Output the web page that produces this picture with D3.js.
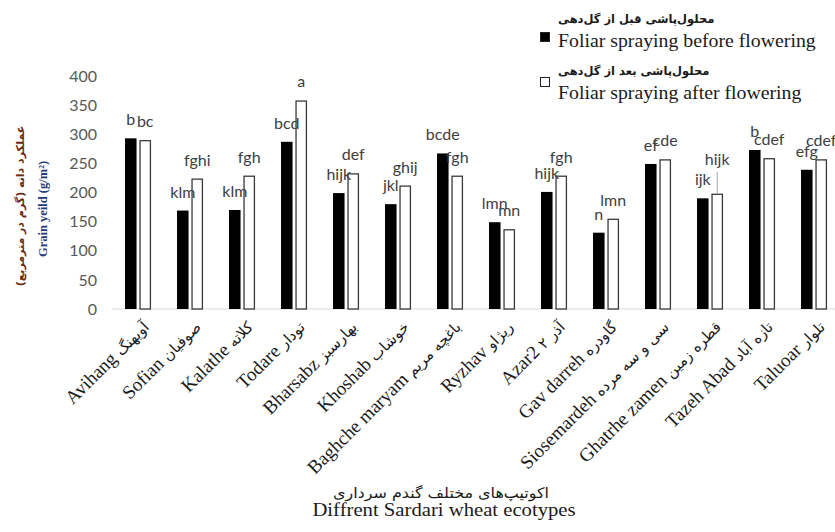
<!DOCTYPE html>
<html>
<head>
<meta charset="utf-8">
<script src="https://cdn.jsdelivr.net/npm/d3@7"></script>
<style>
  html, body { margin: 0; padding: 0; background: #fff; }
  svg { display: block; }
</style>
</head>
<body>
<svg id="chart" width="835" height="532"></svg>
<script>
// ---- data ----
const categoriesEn = ["Avihang", "Sofian", "Kalathe", "Todare", "Bharsabz", "Khoshab", "Baghche maryam", "Ryzhav", "Azar2", "Gav darreh", "Siosemardeh", "Ghatrhe zamen", "Tazeh Abad", "Taluoar"];
const categoriesFa = ["آویهنگ", "صوفیان", "کلاته", "تودار", "بهارسبز", "خوشاب", "باغچه مریم", "ریژاو", "آذر ۲", "گاودره", "سی و سه مرده", "قطره زمین", "تازه آباد", "تلوار"];
const beforeValues = [293, 169, 170, 287, 199, 180, 267, 149, 201, 131, 249, 190, 273, 239];
const afterValues  = [290, 224, 229, 358, 233, 212, 229, 137, 229, 155, 257, 198, 259, 257];
const beforeLetters = ["b", "klm", "klm", "bcd", "hijk", "jkl", "bcde", "lmn", "hijk", "n", "ef", "ijk", "b", "efg"];
const afterLetters  = ["bc", "fghi", "fgh", "a", "def", "ghij", "fgh", "mn", "fgh", "lmn", "cde", "hijk", "cdef", "cdef"];
const yTicks = [0, 50, 100, 150, 200, 250, 300, 350, 400];
const seriesKeys = ["before", "after"];
const seriesNamesEn = ["Foliar spraying before flowering", "Foliar spraying after flowering"];
const seriesNamesFa = ["محلول‌پاشی قبل از گل‌دهی", "محلول‌پاشی بعد از گل‌دهی"];
const yTitleFa = "عملکرد دانه (گرم در مترمربع)";
const yTitleEn = "Grain yeild (g/m²)";
const xTitleFa = "اکوتیپ‌های مختلف گندم سرداری";
const xTitleEn = "Diffrent Sardari wheat ecotypes";

// ---- build table ----
const rows = categoriesEn.map((c, i) => ({
  cat: c, fa: categoriesFa[i],
  before: beforeValues[i], after: afterValues[i],
  lbefore: beforeLetters[i], lafter: afterLetters[i]
}));

const svg = d3.select("#chart");
const serif = "'Liberation Serif', 'Times New Roman', serif";
const sans = "Lato, 'Open Sans', sans-serif";
const fa = "'DejaVu Sans', sans-serif";
const ink = "#1a1a1a";

const x0 = d3.scaleBand().domain(categoriesEn).range([112, 840]).paddingInner(0.5).paddingOuter(0.25);
const x1 = d3.scaleBand().domain(seriesKeys).range([0, x0.bandwidth()]).paddingInner(0.2);
const y = d3.scaleLinear().domain([0, 400]).range([309, 76]);

// y tick labels
const yAxis = d3.axisLeft(y).tickValues(yTicks).tickSize(0).tickPadding(0);
const yg = svg.append("g").attr("transform", "translate(97,0)").call(yAxis);
yg.select(".domain").remove();
yg.selectAll("text").attr("font-family", sans).attr("font-size", 16).attr("fill", "#595959");

// baseline
svg.append("line").attr("x1", 112).attr("x2", 835).attr("y1", y(0)).attr("y2", y(0))
  .attr("stroke", "#d9d9d9").attr("stroke-width", 1);

// bars
const groups = svg.append("g").selectAll("g").data(rows).join("g")
  .attr("transform", d => `translate(${x0(d.cat)},0)`);

groups.append("rect")
  .attr("x", x1("before")).attr("width", x1.bandwidth())
  .attr("y", d => y(d.before)).attr("height", d => y(0) - y(d.before))
  .attr("fill", "#000");

groups.append("rect")
  .attr("x", x1("after") + 0.6).attr("width", x1.bandwidth() - 1.2)
  .attr("y", d => y(d.after) + 0.6).attr("height", d => y(0) - y(d.after) - 0.6)
  .attr("fill", "#fff").attr("stroke", "#3a3a3a").attr("stroke-width", 1.3);

// letters
const liftIdx = categoriesEn.indexOf("Ghatrhe zamen");
groups.append("text")
  .attr("x", x1("before") + x1.bandwidth() / 2)
  .attr("y", d => y(d.before) - 13)
  .attr("text-anchor", "middle").attr("font-family", sans).attr("font-size", 16).attr("fill", "#404040")
  .text(d => d.lbefore);
groups.append("text")
  .attr("x", x1("after") + x1.bandwidth() / 2)
  .attr("y", (d, i) => y(d.after) - (i === liftIdx ? 29 : 13))
  .attr("text-anchor", "middle").attr("font-family", sans).attr("font-size", 16).attr("fill", "#404040")
  .text(d => d.lafter);
// leader line for lifted label
const lr = rows[liftIdx];
svg.append("line")
  .attr("x1", x0(lr.cat) + x1("after") + x1.bandwidth() / 2)
  .attr("x2", x0(lr.cat) + x1("after") + x1.bandwidth() / 2)
  .attr("y1", y(lr.after) - 22).attr("y2", y(lr.after))
  .attr("stroke", "#a6a6a6").attr("stroke-width", 1);

// x labels
const xl = svg.append("g").selectAll("text").data(rows).join("text")
  .attr("transform", d => `translate(${x0(d.cat) + x0.bandwidth() / 2 + 12},328) rotate(-45)`)
  .attr("text-anchor", "end").attr("fill", ink);
xl.append("tspan").attr("font-family", serif).attr("font-size", 19).text(d => d.cat + " ");
xl.append("tspan").attr("font-family", fa).attr("font-size", 15).text(d => d.fa);

// y title
svg.append("text").attr("transform", "translate(24,206) rotate(-90)")
  .attr("text-anchor", "middle").attr("font-family", fa).attr("font-weight", "bold")
  .attr("font-size", 11).attr("fill", "#6b2a10").text(yTitleFa);
svg.append("text").attr("transform", "translate(47,209) rotate(-90)")
  .attr("text-anchor", "middle").attr("font-family", serif).attr("font-weight", "bold")
  .attr("font-size", 12.5).attr("fill", "#1f3c7a").text(yTitleEn);

// x title
svg.append("text").attr("transform", "translate(441,498) scale(1.1,1)").attr("text-anchor", "middle")
  .attr("font-family", fa).attr("font-size", 14.5).attr("fill", ink).text(xTitleFa);
svg.append("text").attr("transform", "translate(444,516) scale(1.15,1)").attr("text-anchor", "middle")
  .attr("font-family", serif).attr("font-size", 18).attr("fill", ink).text(xTitleEn);

// legend
const legBox = [32, 77];
const legFa = [23, 75];
const legEn = [46.5, 98.5];
const leg = svg.append("g").selectAll("g").data(seriesKeys).join("g");
leg.append("rect").attr("x", 540.5).attr("y", (d, i) => legBox[i] + 0.5).attr("width", 9).attr("height", 9)
  .attr("fill", (d, i) => i === 0 ? "#000" : "#fff").attr("stroke", "#222").attr("stroke-width", 1);
leg.append("text").attr("x", 558).attr("y", (d, i) => legFa[i])
  .attr("font-family", fa).attr("font-weight", "bold").attr("font-size", 11.5).attr("fill", ink)
  .text((d, i) => seriesNamesFa[i]);
leg.append("text").attr("transform", (d, i) => `translate(558,${legEn[i]}) scale(1.1,1)`)
  .attr("font-family", serif).attr("font-size", 18).attr("fill", ink)
  .text((d, i) => seriesNamesEn[i]);
</script>
</body>
</html>
